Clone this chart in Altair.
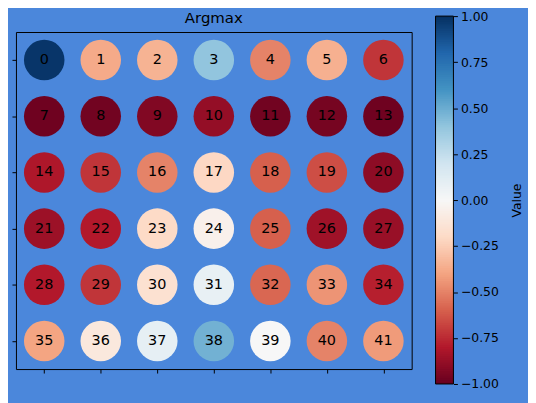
import altair as alt
import pandas as pd
import numpy as np

# ---- data ----
labels = list(range(42))
values = [
    0.98, -0.38, -0.35, 0.40, -0.50, -0.36, -0.72,
    -0.98, -0.97, -0.93, -0.88, -0.97, -0.96, -0.98,
    -0.81, -0.72, -0.50, -0.21, -0.60, -0.65, -0.90,
    -0.86, -0.80, -0.20, -0.05, -0.60, -0.85, -0.87,
    -0.80, -0.72, -0.16, 0.08, -0.58, -0.45, -0.78,
    -0.40, -0.11, 0.09, 0.48, 0.00, -0.50, -0.43,
]
n_cols = 7
cols = [i % n_cols for i in labels]
rows = [i // n_cols for i in labels]
cbar_ticks = [-1.0, -0.75, -0.5, -0.25, 0.0, 0.25, 0.5, 0.75, 1.0]
rdbu_stops = [-1.0, -0.8, -0.6, -0.4, -0.2, 0.0, 0.2, 0.4, 0.6, 0.8, 1.0]
rdbu_colors = ["#67001f", "#b2182b", "#d6604d", "#f4a582", "#fddbc7", "#f7f7f7",
               "#d1e5f0", "#92c5de", "#4393c3", "#2166ac", "#053061"]

BG = "#4b87db"
FONT = "DejaVu Sans"

df = pd.DataFrame({"label": labels, "value": values, "col": cols, "row": rows})

# colorbar gradient strips
edges = np.linspace(-1, 1, 201)
grad = pd.DataFrame({
    "lo": edges[:-1],
    "hi": np.minimum(edges[1:] + 0.006, 1.0),
    "value": (edges[:-1] + edges[1:]) / 2,
    "a": 0, "b": 1,
})
outline = pd.DataFrame({"lo": [-1.0], "hi": [1.0], "a": [0], "b": [1]})

color_scale = alt.Scale(domain=rdbu_stops, range=rdbu_colors, interpolate="rgb")

tick_axis = dict(labels=False, ticks=True, tickSize=4, tickColor="black", tickWidth=1,
                 domain=False, grid=False, title=None)
x_main = alt.X("col:Q", scale=alt.Scale(domain=[-0.5, 6.5], nice=False, zero=False),
               axis=alt.Axis(values=list(range(7)), **tick_axis))
y_main = alt.Y("row:Q", scale=alt.Scale(domain=[5.5, -0.5], nice=False, zero=False),
               axis=alt.Axis(values=list(range(6)), **tick_axis))

circles = alt.Chart(df).mark_circle(size=1662, opacity=1).encode(
    x=x_main, y=y_main,
    color=alt.Color("value:Q", scale=color_scale, legend=None),
)
text = alt.Chart(df).mark_text(font=FONT, fontSize=14.5, color="black").encode(
    x=x_main, y=y_main, text="label:Q"
)

cb_axis = alt.Axis(orient="right", offset=42, values=cbar_ticks, format=".2f",
                   tickSize=4, tickColor="black", domain=False, grid=False,
                   labelFont=FONT, labelFontSize=12.5, labelColor="black", labelPadding=3,
                   title="Value", titleAngle=270, titleFont=FONT, titleFontSize=12.5,
                   titleFontWeight="normal", titleColor="black",
                   titleX=63, titleY=169, titleBaseline="middle", titleAlign="center")
x_cb = alt.X("a:Q", scale=alt.Scale(domain=[0, 1], range=[422, 440]), axis=None)
y_cb = alt.Y("lo:Q", scale=alt.Scale(domain=[-1, 1], range=[354, -16], nice=False, zero=False),
             axis=cb_axis)

grad_chart = alt.Chart(grad).mark_rect().encode(
    x=x_cb, x2="b:Q", y=y_cb, y2="hi:Q",
    color=alt.Color("value:Q", scale=color_scale, legend=None),
)
outline_chart = alt.Chart(outline).mark_rect(fill=None, stroke="black", strokeWidth=1).encode(
    x=x_cb, x2="b:Q", y=y_cb, y2="hi:Q",
)

main = alt.layer(circles, text)
cbar = alt.layer(grad_chart, outline_chart)

chart = alt.layer(main, cbar).resolve_scale(
    x="independent", y="independent"
).properties(
    width=398, height=339,
    title=alt.TitleParams("Argmax", font=FONT, fontSize=15, fontWeight="normal",
                          color="black", anchor="middle", frame="group", offset=-16),
    background=BG,
    padding={"left": 3, "top": 1, "right": 5, "bottom": 5},
    usermeta={"embedOptions": {"defaultStyle": "body{background:%s;}" % BG}},
).configure_view(stroke="black", strokeWidth=1)

chart.save("out.html", embed_options={"renderer": "svg", "actions": False})
